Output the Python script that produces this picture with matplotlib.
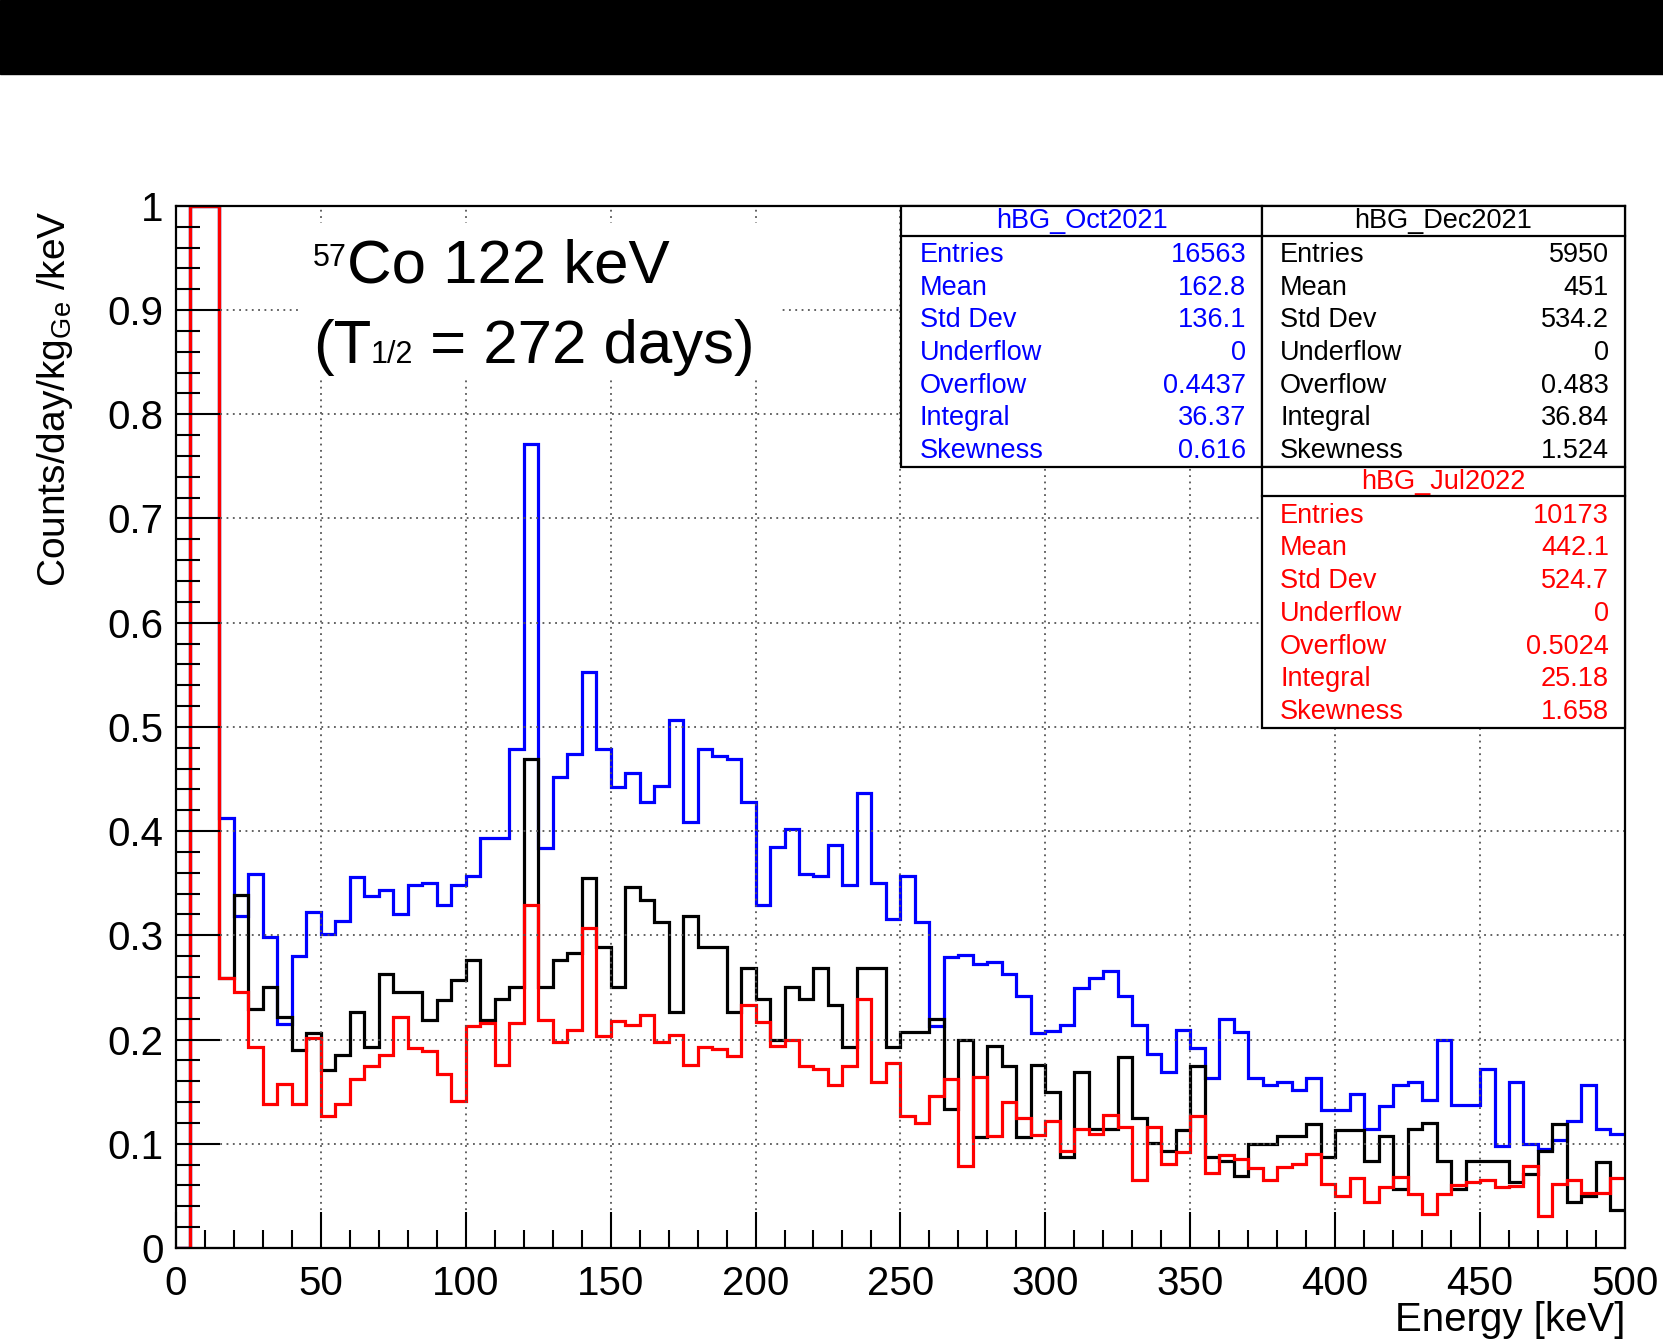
import numpy as np
import matplotlib.pyplot as plt
from matplotlib.patches import Rectangle
from matplotlib.ticker import MultipleLocator

plt.rcParams['font.family'] = ['Liberation Sans', 'DejaVu Sans']

# 5 keV bins from 0 to 500 keV (counts/day/kg_Ge/keV); bins 5-15 keV are off scale
bin_edges = np.arange(0, 505, 5)

oct2021 = [
    0.0, 2.5, 2.5, 0.413, 0.319, 0.359, 0.298, 0.215, 0.280, 0.322,
    0.301, 0.314, 0.356, 0.338, 0.343, 0.320, 0.348, 0.350, 0.329, 0.348,
    0.357, 0.393, 0.393, 0.479, 0.771, 0.384, 0.452, 0.474, 0.553, 0.479,
    0.442, 0.456, 0.428, 0.443, 0.507, 0.409, 0.479, 0.472, 0.469, 0.428,
    0.329, 0.385, 0.402, 0.359, 0.357, 0.387, 0.348, 0.437, 0.350, 0.316,
    0.357, 0.313, 0.213, 0.279, 0.281, 0.272, 0.274, 0.263, 0.242, 0.206,
    0.208, 0.214, 0.249, 0.259, 0.266, 0.242, 0.214, 0.186, 0.169, 0.209,
    0.192, 0.163, 0.220, 0.207, 0.163, 0.156, 0.159, 0.152, 0.163, 0.132,
    0.132, 0.148, 0.114, 0.136, 0.156, 0.159, 0.142, 0.200, 0.137, 0.137,
    0.172, 0.098, 0.159, 0.100, 0.095, 0.104, 0.122, 0.156, 0.114, 0.109,
]

dec2021 = [
    0.0, 2.5, 2.5, 0.259, 0.339, 0.229, 0.250, 0.222, 0.190, 0.206,
    0.171, 0.185, 0.226, 0.193, 0.263, 0.246, 0.246, 0.219, 0.238, 0.257,
    0.276, 0.219, 0.239, 0.250, 0.469, 0.250, 0.276, 0.283, 0.355, 0.289,
    0.250, 0.346, 0.334, 0.313, 0.226, 0.319, 0.289, 0.289, 0.226, 0.269,
    0.239, 0.200, 0.250, 0.239, 0.269, 0.233, 0.193, 0.269, 0.269, 0.193,
    0.207, 0.207, 0.220, 0.133, 0.200, 0.106, 0.194, 0.175, 0.106, 0.176,
    0.150, 0.087, 0.169, 0.114, 0.114, 0.183, 0.125, 0.101, 0.093, 0.113,
    0.175, 0.087, 0.083, 0.069, 0.100, 0.100, 0.107, 0.107, 0.119, 0.087,
    0.113, 0.113, 0.083, 0.107, 0.057, 0.114, 0.120, 0.083, 0.057, 0.083,
    0.083, 0.083, 0.063, 0.071, 0.093, 0.119, 0.044, 0.050, 0.082, 0.036,
]

jul2022 = [
    0.0, 2.5, 2.5, 0.259, 0.246, 0.193, 0.138, 0.157, 0.138, 0.201,
    0.127, 0.138, 0.162, 0.175, 0.185, 0.222, 0.192, 0.189, 0.167, 0.141,
    0.213, 0.216, 0.176, 0.216, 0.329, 0.219, 0.198, 0.209, 0.307, 0.203,
    0.218, 0.214, 0.224, 0.198, 0.204, 0.176, 0.193, 0.191, 0.184, 0.233,
    0.217, 0.194, 0.200, 0.175, 0.172, 0.156, 0.175, 0.239, 0.159, 0.177,
    0.127, 0.120, 0.146, 0.162, 0.079, 0.164, 0.107, 0.140, 0.125, 0.108,
    0.122, 0.093, 0.114, 0.109, 0.128, 0.116, 0.065, 0.116, 0.081, 0.092,
    0.127, 0.072, 0.089, 0.085, 0.077, 0.065, 0.078, 0.081, 0.090, 0.061,
    0.050, 0.067, 0.044, 0.058, 0.068, 0.052, 0.033, 0.052, 0.060, 0.063,
    0.065, 0.058, 0.059, 0.079, 0.031, 0.061, 0.065, 0.053, 0.053, 0.067,
]

x_ticks = [0, 50, 100, 150, 200, 250, 300, 350, 400, 450, 500]
x_tick_labels = ['0', '50', '100', '150', '200', '250', '300', '350', '400', '450', '500']
y_ticks = [0, 0.1, 0.2, 0.3, 0.4, 0.5, 0.6, 0.7, 0.8, 0.9, 1.0]
y_tick_labels = ['0', '0.1', '0.2', '0.3', '0.4', '0.5', '0.6', '0.7', '0.8', '0.9', '1']

stat_names = ['Entries', 'Mean', 'Std Dev', 'Underflow', 'Overflow', 'Integral', 'Skewness']
oct_stats = ['16563', '162.8', '136.1', '0', '0.4437', '36.37', '0.616']
dec_stats = ['5950', '451', '534.2', '0', '0.483', '36.84', '1.524']
jul_stats = ['10173', '442.1', '524.7', '0', '0.5024', '25.18', '1.658']

ymax = 1.0

fig = plt.figure(figsize=(16.63, 13.42), dpi=100)
ax = fig.add_axes([0.1058, 0.0701, 0.8713, 0.7765])

# black band across the top of the slide
fig.add_artist(Rectangle((0, 1 - 74 / 1342), 1, 74 / 1342,
                         transform=fig.transFigure, color='black'))

# histograms, clipped at the frame like ROOT does
for vals, col in [(oct2021, '#0000ff'), (dec2021, 'black'), (jul2022, '#ff0000')]:
    ax.stairs(np.minimum(vals, ymax), bin_edges, color=col, lw=2.3, baseline=None)

ax.set_xlim(0, 500)
ax.set_ylim(0, ymax)
ax.set_xticks(x_ticks, labels=x_tick_labels)
ax.set_yticks(y_ticks, labels=y_tick_labels)
ax.xaxis.set_minor_locator(MultipleLocator(10))
ax.yaxis.set_minor_locator(MultipleLocator(0.02))
ax.tick_params(axis='x', which='major', direction='in', length=26, width=1.5,
               labelsize=29, pad=12)
ax.tick_params(axis='x', which='minor', direction='in', length=13, width=1.5)
ax.tick_params(axis='y', which='major', direction='in', length=32, width=1.5,
               labelsize=29, pad=9)
ax.tick_params(axis='y', which='minor', direction='in', length=17, width=1.5)
ax.grid(True, which='major', linestyle=(0, (1, 2.5)), color='#555555', lw=1.3)
for sp in ax.spines.values():
    sp.set_linewidth(1.6)

fig.text(0.0331, 0.8435, r'Counts/day/kg$_{\mathregular{Ge}}$ /keV', rotation=90,
         ha='center', va='top', fontsize=28)
fig.text(0.9771, 0.0164, 'Energy [keV]', ha='right', va='center', fontsize=29)

# isotope note on a white pad, built from pieces so the small indices keep their size
ax.add_patch(Rectangle((0.087, 0.836), 0.33, 0.148, transform=ax.transAxes,
                       fc='white', ec='none', zorder=3))
renderer = fig.canvas.get_renderer()
ax_w = ax.get_window_extent(renderer).width
note_font = dict(color='black', transform=ax.transAxes, ha='left',
                 va='baseline', zorder=4)


def note_line(x, pieces):
    for txt, size, dy in pieces:
        t = ax.text(x, dy, txt, fontsize=size, **note_font)
        x += t.get_window_extent(renderer).width / ax_w


note_line(0.0944, [('57', 22, 0.9268 + 0.0155), ('Co 122 keV', 44.5, 0.9268)])
note_line(0.0944, [('(T', 44.5, 0.8494), ('1/2', 22, 0.8494), (' = 272 days)', 44.5, 0.8494)])


def stats_box(x0, x1, y0, y1, title, values, color):
    title_h = 0.0285
    line_y = y1 - title_h
    ax.add_patch(Rectangle((x0, y0), x1 - x0, y1 - y0, transform=ax.transAxes,
                           fc='white', ec='black', lw=1.6, zorder=5, clip_on=False))
    ax.plot([x0, x1], [line_y, line_y], transform=ax.transAxes, color='black',
            lw=1.6, zorder=6, clip_on=False)
    ax.text((x0 + x1) / 2, line_y + title_h / 2, title, transform=ax.transAxes,
            ha='center', va='center', fontsize=19.5, color=color, zorder=7)
    for i, (name, val) in enumerate(zip(stat_names, values)):
        y = line_y - 0.0185 - i * 0.0314
        ax.text(x0 + 0.0125, y, name, transform=ax.transAxes, ha='left',
                va='center', fontsize=19.5, color=color, zorder=7)
        ax.text(x1 - 0.011, y, val, transform=ax.transAxes, ha='right',
                va='center', fontsize=19.5, color=color, zorder=7)


stats_box(0.5007, 0.7496, 0.7497, 1.0, 'hBG_Oct2021', oct_stats, '#0000ff')
stats_box(0.7496, 1.0, 0.7497, 1.0, 'hBG_Dec2021', dec_stats, 'black')
stats_box(0.7496, 1.0, 0.4985, 0.7497, 'hBG_Jul2022', jul_stats, '#ff0000')

fig.savefig('out.png', dpi=100)
